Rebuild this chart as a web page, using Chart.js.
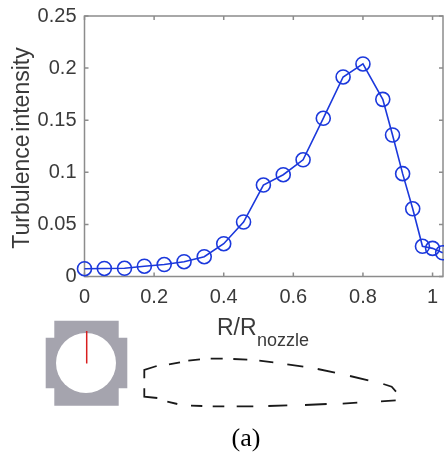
<!DOCTYPE html>
<html>
<head>
<meta charset="utf-8">
<style>
  html, body { margin: 0; padding: 0; background: #fff; overflow: hidden; }
  canvas { display: block; }
</style>
<script src="https://cdn.jsdelivr.net/npm/chart.js@4"></script>
</head>
<body>
<canvas id="myChart" width="444" height="452"></canvas>
<script>
// values
const radius = [0, 0.057, 0.115, 0.172, 0.229, 0.286, 0.344, 0.4, 0.457, 0.514, 0.571,
  0.628, 0.686, 0.743, 0.8, 0.857, 0.885, 0.914, 0.943, 0.971, 1, 1.029];
const turbulence = [0.0075, 0.0077, 0.0079, 0.0099, 0.0115, 0.0142, 0.019, 0.0315, 0.0523, 0.0878, 0.0977,
  0.112, 0.1518, 0.1915, 0.204, 0.170, 0.1358, 0.0987, 0.065, 0.029, 0.027, 0.0228];
const xTicks = [0, 0.2, 0.4, 0.6, 0.8, 1];
const yTicks = [0, 0.05, 0.1, 0.15, 0.2, 0.25];
const xMax = 1.03;
const yMax = 0.25;

const textColor = '#3a3a3a';
const frameColor = '#8c8c8c';
const lineColor = '#1b38dc';
const tickLen = 4;

// gray frame with inward ticks on all four sides
const framePlugin = {
  id: 'frame',
  beforeDatasetsDraw(chart) {
    const c = chart.ctx, a = chart.chartArea;
    c.save();
    c.strokeStyle = frameColor;
    c.lineWidth = 1.5;
    c.strokeRect(a.left, a.top, a.right - a.left, a.bottom - a.top);
    c.beginPath();
    xTicks.forEach(v => {
      const px = chart.scales.x.getPixelForValue(v);
      c.moveTo(px, a.bottom); c.lineTo(px, a.bottom - tickLen);
      c.moveTo(px, a.top); c.lineTo(px, a.top + tickLen);
    });
    yTicks.forEach(v => {
      const py = chart.scales.y.getPixelForValue(v);
      c.moveTo(a.left, py); c.lineTo(a.left + tickLen, py);
      c.moveTo(a.right, py); c.lineTo(a.right - tickLen, py);
    });
    c.stroke();
    c.restore();
  }
};

// axis titles (the x one has a subscript), nozzle sketch, airfoil outline, caption
const annotationPlugin = {
  id: 'annotations',
  afterDraw(chart) {
    const c = chart.ctx;
    c.save();
    c.fillStyle = textColor;
    c.textBaseline = 'alphabetic';

    c.save();
    c.translate(29, 148);
    c.rotate(-Math.PI / 2);
    c.font = '23px "Liberation Sans"';
    c.wordSpacing = '-3.6px';
    c.textAlign = 'center';
    c.fillText('Turbulence intensity', 0, 0);
    c.restore();

    c.textAlign = 'left';
    c.font = '23px "Liberation Sans"';
    c.fillText('R/R', 217, 335);
    c.font = '18px "Liberation Sans"';
    c.fillText('nozzle', 257, 346);

    c.fillStyle = '#000';
    c.textAlign = 'center';
    c.font = '26px "Liberation Serif"';
    c.fillText('(a)', 246, 446);

    // nozzle cross section
    c.fillStyle = '#a5a4ae';
    c.beginPath();
    [[54.3, 320.7], [118.7, 320.7], [118.7, 337.7], [127.3, 337.7], [127.3, 388.3], [118.7, 388.3],
     [118.7, 405.7], [54.3, 405.7], [54.3, 388.3], [45.7, 388.3], [45.7, 337.7], [54.3, 337.7]]
      .forEach((p, i) => i ? c.lineTo(p[0], p[1]) : c.moveTo(p[0], p[1]));
    c.closePath();
    c.fill();
    c.fillStyle = '#fff';
    c.beginPath();
    c.arc(86, 363, 30, 0, Math.PI * 2);
    c.fill();
    c.strokeStyle = '#d81e1e';
    c.lineWidth = 1.5;
    c.beginPath();
    c.moveTo(86.7, 331);
    c.lineTo(86.7, 363.5);
    c.stroke();

    // airfoil dashes
    const dashes = [
      [[144.3, 378.3], [144.3, 370], [156.7, 366]], [[169, 364.3], [180, 362.3]], [[188.3, 360.7], [200, 359.3]],
      [[210.7, 358.7], [222.7, 358.7]], [[233.3, 359], [247.3, 359.7]], [[259.3, 360.7], [273.3, 362.3]],
      [[287.3, 364.3], [303.3, 366.7]], [[317.7, 369], [335, 372.7]], [[350, 376], [368.3, 380.3]],
      [[383.3, 384], [391.7, 386.7], [396, 391.7]],
      [[144.3, 388.3], [144.3, 396.7], [157.3, 398]], [[167.3, 401.7], [177.3, 404]], [[191, 405.7], [202.3, 406]],
      [[212.7, 406.3], [224.3, 406.3]], [[236.7, 406.3], [253.3, 406.3]], [[268.3, 406], [287.3, 405.3]],
      [[305, 405], [326.7, 404]], [[342.7, 403.7], [357.3, 402.7]], [[381, 401.3], [395.7, 400.3]]
    ];
    c.strokeStyle = '#1a1a1a';
    c.lineWidth = 1.8;
    c.beginPath();
    dashes.forEach(d => d.forEach((p, i) => i ? c.lineTo(p[0], p[1]) : c.moveTo(p[0], p[1])));
    c.stroke();
    c.restore();
  }
};

new Chart(document.getElementById('myChart'), {
  type: 'scatter',
  data: {
    datasets: [{
      data: radius.map((r, i) => ({ x: r, y: turbulence[i] })),
      showLine: true,
      tension: 0,
      clip: false,
      borderColor: lineColor,
      borderWidth: 1.6,
      pointStyle: 'circle',
      pointRadius: 7,
      pointBorderWidth: 1.6,
      pointBorderColor: lineColor,
      pointBackgroundColor: 'rgba(0,0,0,0)'
    }]
  },
  options: {
    responsive: false,
    animation: false,
    devicePixelRatio: 1,
    layout: { autoPadding: false, padding: { left: 0, right: 1, top: 16, bottom: 0 } },
    plugins: { legend: { display: false }, tooltip: { enabled: false } },
    scales: {
      x: {
        type: 'linear',
        min: 0,
        max: xMax,
        afterFit(s) { s.height = 175.5; s.paddingLeft = 0; s.paddingRight = 0; },
        afterBuildTicks(s) { s.ticks = xTicks.map(v => ({ value: v })); },
        grid: { display: false, drawTicks: false },
        border: { display: false },
        ticks: {
          autoSkip: false,
          maxRotation: 0,
          padding: 8.5,
          color: textColor,
          font: { family: 'Liberation Sans', size: 20 },
          callback: v => String(v)
        }
      },
      y: {
        min: 0,
        max: yMax,
        afterFit(s) { s.width = 84.5; s.paddingTop = 0; s.paddingBottom = 0; },
        afterBuildTicks(s) { s.ticks = yTicks.map(v => ({ value: v })); },
        grid: { display: false, drawTicks: false },
        border: { display: false },
        ticks: {
          autoSkip: false,
          padding: 8,
          color: textColor,
          font: { family: 'Liberation Sans', size: 20 },
          callback: v => String(v)
        }
      }
    }
  },
  plugins: [framePlugin, annotationPlugin]
});
</script>
</body>
</html>
